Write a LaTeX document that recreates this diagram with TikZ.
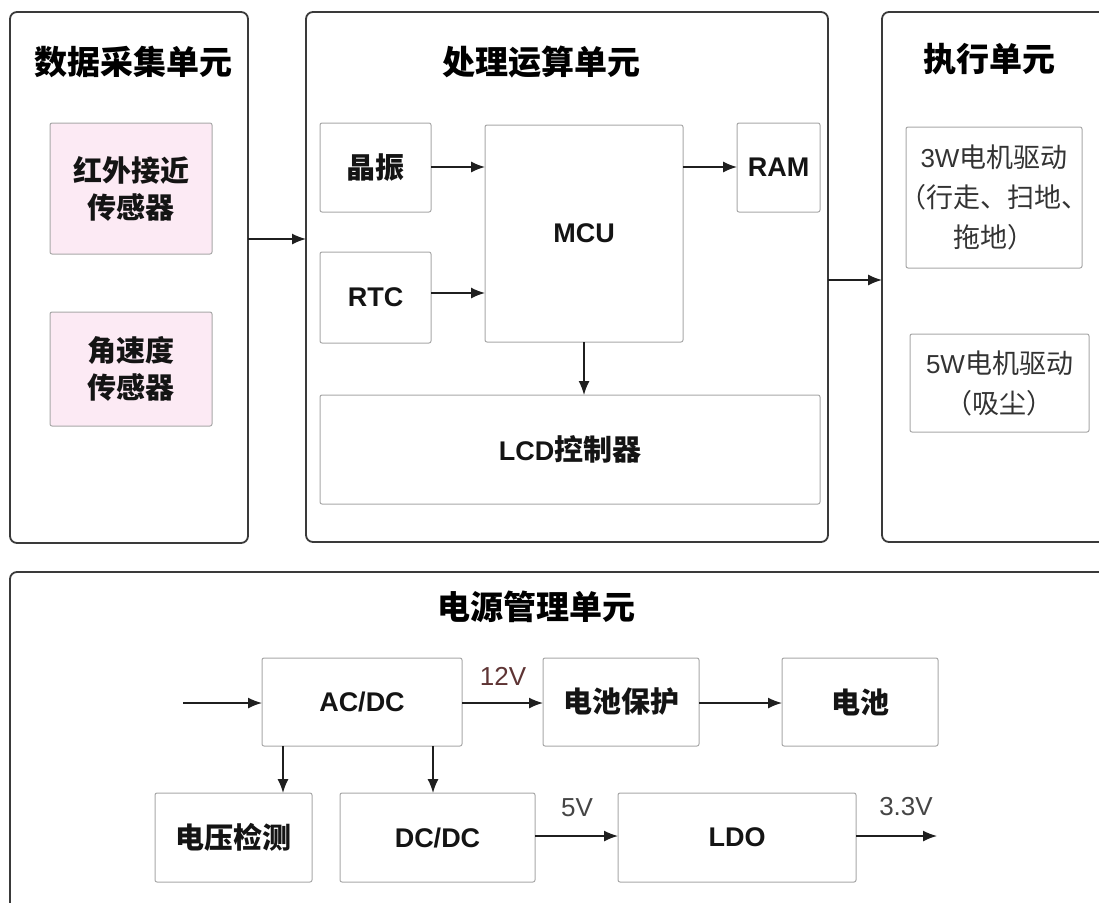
\documentclass[tikz,border=0pt]{standalone}
\usepackage{fontspec}
\setmainfont{Liberation Sans}
\newfontfamily\cjk{Noto Sans CJK SC}
\usetikzlibrary{arrows.meta}
\definecolor{pinkfill}{HTML}{FCEAF4}
\definecolor{frame}{HTML}{3A3A3A}
\definecolor{thin}{HTML}{A8A8A8}
\definecolor{lbl}{HTML}{454545}
\definecolor{lblred}{HTML}{5E3434}
\definecolor{mtxt}{HTML}{333333}
\newcommand{\zhb}[1]{{\cjk\fontsize{29}{34}\selectfont #1}}
\newcommand{\lat}[1]{{\rmfamily\fontsize{26}{40}\selectfont #1}}
\tikzset{
  outer/.style={draw=frame, line width=1.8pt, rounded corners=7pt, inner sep=0pt, outer sep=0pt},
  inner/.style={draw=thin, line width=1pt, rounded corners=2pt, inner sep=0pt, outer sep=0pt, align=center, text=black!92},
  pinkbox/.style={inner, fill=pinkfill},
  ttl/.style={font=\cjk\bfseries\fontsize{33}{40}\selectfont, inner sep=0pt},
  zhtxt/.style={font=\cjk\bfseries\fontsize{29}{37}\selectfont},
  entxt/.style={font=\bfseries\fontsize{27}{34}\selectfont},
  motor/.style={font=\cjk\fontsize{27}{40}\selectfont, text=mtxt, align=center, inner sep=0pt},
  vlabel/.style={font=\fontsize{26}{30}\selectfont, text=lbl, inner sep=0pt},
  arr/.style={-{Latex[length=14pt,width=11pt]}, line width=1.5pt, draw=black!88}
}
\begin{document}
\begin{tikzpicture}[x=1pt,y=-1pt]
\fill[white] (0,0) rectangle (1099,902);
\clip (0,0) rectangle (1099,902);

% outer units
\node[outer, minimum width=238pt, minimum height=531pt] (data) at (129,277.5) {};
\node[outer, minimum width=522pt, minimum height=530pt] (proc) at (567,277) {};
\node[outer, minimum width=248pt, minimum height=530pt] (exec) at (1006,277) {};
\node[outer, minimum width=1120pt, minimum height=358pt] (power) at (570,751) {};

% titles
\node[ttl] (tdata) at (133,62) {数据采集单元};
\node[ttl] (tproc) at (541,62) {处理运算单元};
\node[ttl] (texec) at (989,59) {执行单元};
\node[ttl] (tpower) at (536,607) {电源管理单元};

% data unit
\node[pinkbox, zhtxt, minimum width=162pt, minimum height=131pt] (ir) at (131,188.5) {红外接近\\传感器};
\node[pinkbox, zhtxt, minimum width=162pt, minimum height=114pt] (gyro) at (131,369) {角速度\\传感器};

% processing unit
\node[inner, zhtxt, minimum width=111pt, minimum height=89pt] (osc) at (375.5,167.5) {晶振};
\node[inner, entxt, minimum width=111pt, minimum height=91pt] (rtc) at (375.5,297.5) {RTC};
\node[inner, entxt, minimum width=198pt, minimum height=217pt] (mcu) at (584,233.5) {MCU};
\node[inner, entxt, minimum width=83pt, minimum height=89pt] (ram) at (778.5,167.5) {RAM};
\node[inner, entxt, minimum width=500pt, minimum height=109pt] (lcd) at (570,449.5) {LCD\zhb{控制器}};

% execution unit
\node[inner, minimum width=176pt, minimum height=141pt] (m3) at (994,197.5) {};
\node[motor] (m3t) at (m3.center) {\lat{3W}电机驱动\\（行走、扫地、\\拖地）};
\node[inner, minimum width=179pt, minimum height=98pt] (m5) at (999.5,383) {};
\node[motor] (m5t) at (m5.center) {\lat{5W}电机驱动\\（吸尘）};

% power unit
\node[inner, entxt, minimum width=200pt, minimum height=88pt] (acdc) at (362,702) {AC/DC};
\node[inner, zhtxt, minimum width=156pt, minimum height=88pt] (bprot) at (621,702) {电池保护};
\node[inner, zhtxt, minimum width=156pt, minimum height=88pt] (batt) at (860,702) {电池};
\node[inner, zhtxt, minimum width=157pt, minimum height=89pt] (vdet) at (233.5,837.5) {电压检测};
\node[inner, entxt, minimum width=195pt, minimum height=89pt] (dcdc) at (437.5,837.5) {DC/DC};
\node[inner, entxt, minimum width=238pt, minimum height=89pt] (ldo) at (737,837.5) {LDO};

\coordinate (pin) at (183,703);
\coordinate (pout) at (937,836);

% labels
\node[vlabel, text=lblred] (l12) at (503,676) {12V};
\node[vlabel] (l5) at (577,808) {5V};
\node[vlabel] (l33) at (906,807) {3.3V};

% connectors
\draw[arr] (data.east |- 0,239) -- (proc.west |- 0,239);
\draw[arr] (proc.east |- 0,280) -- (exec.west |- 0,280);
\draw[arr] (osc.east |- 0,167) -- (mcu.west |- 0,167);
\draw[arr] (rtc.east |- 0,293) -- (mcu.west |- 0,293);
\draw[arr] (mcu.east |- 0,167) -- (ram.west |- 0,167);
\draw[arr] (mcu.south) -- (mcu.south |- lcd.north);
\draw[arr] (pin) -- (pin -| acdc.west);
\draw[arr] (acdc.east |- 0,703) -- (bprot.west |- 0,703);
\draw[arr] (bprot.east |- 0,703) -- (batt.west |- 0,703);
\draw[arr] (acdc.south -| 283,0) -- (vdet.north -| 283,0);
\draw[arr] (acdc.south -| 433,0) -- (dcdc.north -| 433,0);
\draw[arr] (dcdc.east |- 0,836) -- (ldo.west |- 0,836);
\draw[arr] (ldo.east |- pout) -- (pout);
\end{tikzpicture}
\end{document}
